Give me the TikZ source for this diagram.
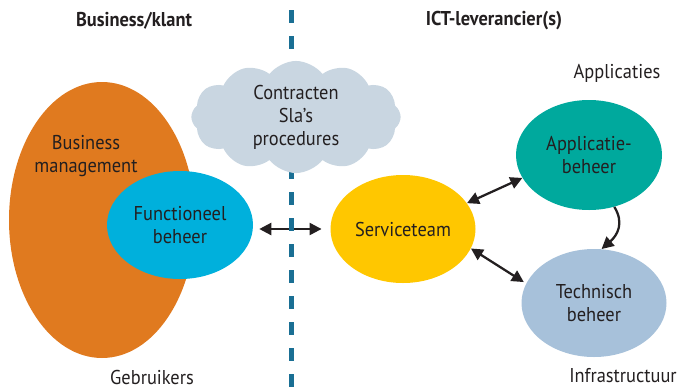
\documentclass[tikz,border=0pt]{standalone}
\usepackage{fontspec}
\setmainfont{PT Sans}[FakeStretch=0.92]
\usetikzlibrary{shapes.geometric,shapes.symbols,arrows.meta}

\definecolor{bizorange}{HTML}{E07A1F}
\definecolor{funcblue}{HTML}{00B0DC}
\definecolor{svcyellow}{HTML}{FFC700}
\definecolor{appteal}{HTML}{00A99D}
\definecolor{techblue}{HTML}{A7C1DA}
\definecolor{cloudgrey}{HTML}{C9D6E1}
\definecolor{divider}{HTML}{1A6F94}
\definecolor{ink}{HTML}{231F20}

\newcommand{\labelsize}{\fontsize{15pt}{17.25pt}\selectfont}

\tikzset{
  blob/.style={ellipse, inner sep=0pt, align=center, text=ink},
  txt/.style={align=center, text=ink, inner sep=0pt},
  title/.style={txt, font=\labelsize\bfseries},
  link/.style={draw=ink, line width=1.7pt, {Triangle[length=9pt,width=9pt]}-{Triangle[length=9pt,width=9pt]}},
  onelink/.style={draw=ink, line width=1.7pt, -{Triangle[length=9pt,width=9pt]}},
  divline/.style={draw=divider, line width=3.75pt, dash pattern=on 9.75pt off 9.75pt},
}

\begin{document}
\begin{tikzpicture}[x=0.75pt, y=-0.75pt, font=\labelsize]
\useasboundingbox (0,0) rectangle (680,389);

% column titles
\node[title] (biz) at (134,21) {Business/klant};
\node[title] (ict) at (494,21) {ICT-leverancier(s)};

% client side
\node[blob, fill=bizorange, minimum width=139.5pt, minimum height=207pt] (bm) at (102,220) {};
\node[txt] (bmtext) at (86,156) {Business\\management};
\node[blob, fill=funcblue, minimum width=109.5pt, minimum height=81pt] (fb) at (180,225) {Functioneel\\beheer};
\node[txt] (users) at (152,377) {Gebruikers};

% supplier side
\node[blob, fill=svcyellow, minimum width=108.75pt, minimum height=81pt] (serv) at (403,229) {Serviceteam};
\node[blob, fill=appteal, minimum width=109.5pt, minimum height=82.5pt] (app) at (589,155) {Applicatie-\\beheer};
\node[blob, fill=techblue, minimum width=108.75pt, minimum height=81pt] (tech) at (594,303) {Technisch\\beheer};
\node[txt] (apps) at (617,73) {Applicaties};
\node[txt] (infra) at (623,376) {Infrastructuur};

% link across the divide
\draw[link] (fb.east |- serv.west) ++(6,0) coordinate (hl) (hl) -- ([xshift=-6.5pt]serv.west);

% dividing line
\coordinate (divtop) at (291,10);
\coordinate (divbot) at (291,392);
\draw[divline] (divtop) -- (divbot);

% agreements cloud on top of the divider
\node[cloud, cloud puffs=12, cloud puff arc=105, aspect=2.1, fill=cloudgrey,
      minimum width=157pt, minimum height=76pt, inner sep=0pt, align=center, text=ink]
      (deal) at (296,117) {Contracten\\Sla’s\\procedures};

% links inside the supplier side
\draw[link] (serv.22) -- (app.-161);
\draw[link, shorten >=2pt] (serv.-16) -- (tech.164);
\draw[onelink] (app.-64) .. controls +(10,16) and +(16,-14) .. (tech.82);
\end{tikzpicture}
\end{document}
